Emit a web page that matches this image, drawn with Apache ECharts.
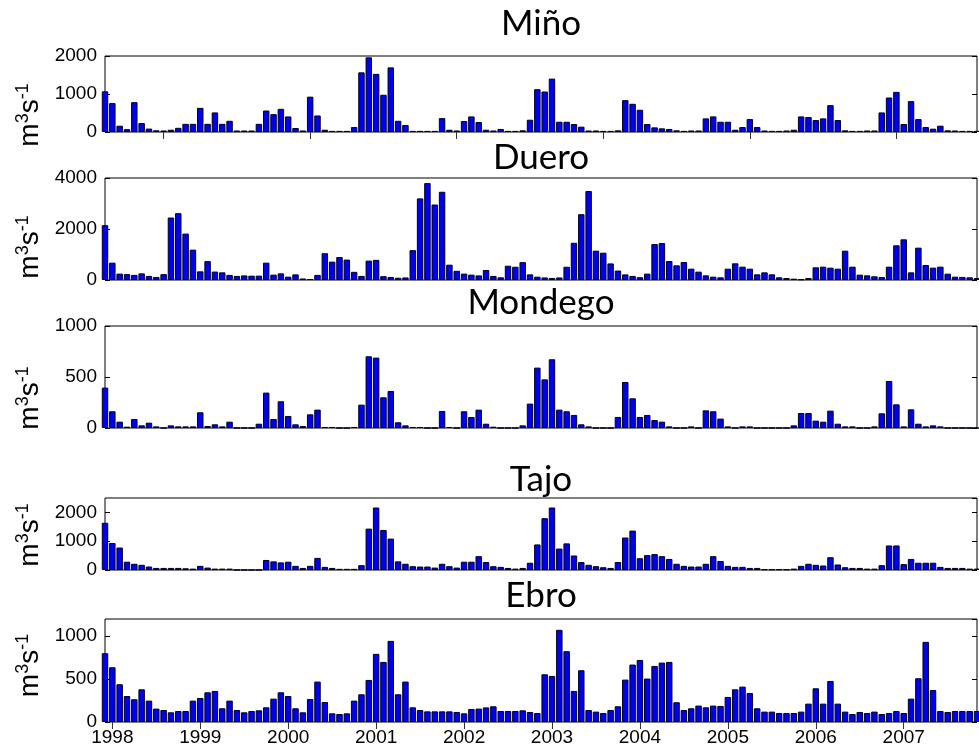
<!DOCTYPE html>
<html>
<head>
<meta charset="utf-8">
<script src="https://cdn.jsdelivr.net/npm/echarts@6/dist/echarts.min.js"></script>
<style>
html,body{margin:0;padding:0;background:#fff;}
#chart{width:979px;height:749px;}
</style>
</head>
<body>
<div id="chart"></div>
<script>
// Monthly discharge (m3/s), Dec 1997 .. Nov 2007 (index 0 = Dec 1997)
const rivers = ['Miño', 'Duero', 'Mondego', 'Tajo', 'Ebro'];
const yearLabels = ['1998','1999','2000','2001','2002','2003','2004','2005','2006','2007'];

const mino = [1070,
 760,165,75,785,235,90,45,40,60,110,215,215,
 635,215,515,215,295,40,40,40,215,565,470,610,
 410,105,40,930,435,60,30,30,30,130,1570,1965,
 1530,980,1700,295,185,30,30,30,30,365,60,40,
 290,410,262,60,40,80,30,30,44,323,1126,1065,
 1405,270,270,210,140,40,40,30,30,44,838,742,
 585,210,122,96,80,44,30,40,40,358,410,270,
 270,60,130,340,130,40,30,30,40,60,410,393,
 314,358,707,314,44,30,30,40,40,515,908,1056,
 210,812,340,130,87,166,44,40,30,30,30];

const duero = [2150,
 680,250,230,200,260,160,120,230,2450,2620,1820,1190,
 340,740,330,300,200,160,180,170,170,680,210,260,
 130,220,60,40,200,1050,720,900,800,320,160,760,
 790,150,120,90,100,1170,3200,3800,2960,3460,600,360,
 250,210,180,390,160,105,560,520,700,220,130,100,
 80,100,520,1460,2580,3490,1150,1070,650,370,220,160,
 110,250,1410,1450,745,575,706,444,327,183,131,105,
 444,654,523,444,222,300,222,105,78,52,26,78,
 497,523,484,444,1150,523,209,183,144,115,523,1360,
 1595,300,1268,588,484,523,248,131,120,105,78];

const mondego = [396,
 164,62,13,88,26,52,16,0,26,16,16,16,
 154,20,36,16,62,0,0,0,42,347,88,262,
 118,36,20,134,180,10,10,0,0,10,229,703,
 690,301,363,56,26,10,10,0,0,167,10,0,
 164,108,180,42,13,0,0,0,26,239,592,477,
 674,180,164,128,36,16,0,0,0,108,451,291,
 108,128,78,62,16,0,0,16,0,173,164,92,
 16,0,16,16,0,0,0,0,0,26,147,147,
 72,62,170,42,16,16,0,0,16,144,461,232,
 16,183,42,16,26,16,0,0,0,0,0];

const tajo = [1640,
 936,780,288,216,180,120,72,72,72,72,60,48,
 144,84,48,48,48,0,0,0,0,348,300,264,
 288,144,72,144,420,108,72,40,40,40,168,1437,
 2170,1390,1090,300,216,132,120,120,84,216,132,84,
 288,288,480,276,132,108,72,48,72,252,888,1800,
 2170,744,924,504,276,180,132,96,72,276,1128,1368,
 408,516,552,480,384,216,144,120,120,216,480,312,
 144,108,108,72,72,24,24,24,24,48,144,216,
 180,156,444,192,96,72,72,48,48,168,852,852,
 204,384,252,252,252,108,72,72,72,48,48];

const ebro = [801,
 638,440,303,265,381,249,156,140,113,128,128,249,
 280,346,362,160,249,140,113,128,136,171,272,346,
 303,160,113,268,471,233,101,93,101,249,323,490,
 794,700,945,323,471,171,140,124,124,124,124,117,
 101,152,156,170,183,128,128,128,136,117,105,556,
 537,1074,825,362,603,140,121,105,140,183,494,669,
 723,506,653,692,700,230,140,160,191,171,191,187,
 292,381,412,338,160,121,121,105,105,105,121,214,
 393,214,478,214,121,93,117,105,121,93,105,128,
 105,272,510,934,373,128,117,128,128,128,128];

const yMax = [2000, 4000, 1000, 2500, 1200];
const yStep = [1000, 2000, 500, 1000, 500];

// month categories Dec 1997 .. Nov 2007
const months = [];
for (let k = 0; k < 120; k++) {
  const t = 1997 * 12 + 11 + k;
  months.push(Math.floor(t / 12) + '-' + String(t % 12 + 1).padStart(2, '0'));
}
const seriesData = [mino, duero, mondego, tajo, ebro];

// ---------- layout ----------
const L = 105, R = 2;
const layout = [
  {top: 56, height: 76, titleTop: 6, namePad: [0, 42, 0, 0]},
  {top: 178, height: 102, titleTop: 140, namePad: [0, 36, 0, 0]},
  {top: 326, height: 102, titleTop: 285, namePad: [0, 42, 0, 0]},
  {top: 498, height: 72, titleTop: 462, namePad: [0, 2, 0, 0]},
  {top: 619, height: 103, titleTop: 578, namePad: [0, 0, 0, 10]}
];
const plotCenterX = L + (979 - L - R) / 2;
const FONT = 'Liberation Sans, Arial, sans-serif';

const option = {
  animation: false,
  backgroundColor: '#fff',
  title: rivers.map((r, k) => ({
    text: r, left: plotCenterX, top: layout[k].titleTop, textAlign: 'center', padding: 0,
    textStyle: {fontFamily: 'Lato', fontSize: 35, fontWeight: 'normal', color: '#000'}
  })),
  grid: layout.map(g => ({
    left: L, right: R, top: g.top, height: g.height,
    show: true, borderColor: '#000', borderWidth: 1, backgroundColor: 'transparent'
  })),
  xAxis: [],
  yAxis: [],
  series: []
};

layout.forEach((g, k) => {
  const last = k === 4;
  const bottomIdx = option.xAxis.length;
  option.xAxis.push({
    type: 'category', gridIndex: k, data: months, boundaryGap: false, position: 'bottom',
    axisLine: {show: false},
    axisTick: {show: last, inside: true, length: 6, interval: (i) => i % 12 === 1,
      lineStyle: {color: '#000'}},
    axisLabel: {show: last, interval: (i) => i % 12 === 1, margin: 6,
      formatter: (v, i) => yearLabels[(i - 1) / 12] || '',
      fontFamily: FONT, fontSize: 19, color: '#000'},
    splitLine: {show: false}
  });
  if (k === 0 || last) {
    option.xAxis.push({
      type: 'category', gridIndex: k, data: months, boundaryGap: false, position: 'top',
      axisLine: {show: false},
      axisTick: {show: true, inside: true, length: 7,
        interval: k === 0 ? ((i) => i % 20 === 8) : ((i) => i % 12 === 1),
        lineStyle: {color: '#333'}},
      axisLabel: {show: false},
      splitLine: {show: false}
    });
  }
  const leftIdx = option.yAxis.length;
  option.yAxis.push({
    type: 'value', gridIndex: k, min: 0, max: yMax[k], interval: yStep[k], position: 'left',
    axisLine: {show: false},
    axisTick: {show: true, inside: true, length: 5, lineStyle: {color: '#000'}},
    axisLabel: {margin: 8, fontFamily: FONT, fontSize: 19, color: '#000',
      showMaxLabel: yMax[k] % yStep[k] === 0, formatter: (v) => String(v)},
    splitLine: {show: false},
    name: '{b|m}{s|3}{b|s}{s|-1}',
    nameLocation: 'middle', nameRotate: 90, nameGap: 48,
    nameTextStyle: {
      padding: g.namePad,
      rich: {
        b: {fontFamily: FONT, fontSize: 28, color: '#000', lineHeight: 30, verticalAlign: 'bottom'},
        s: {fontFamily: FONT, fontSize: 18, color: '#000', lineHeight: 30, verticalAlign: 'top'}
      }
    }
  });
  option.yAxis.push({
    type: 'value', gridIndex: k, min: 0, max: yMax[k], interval: yStep[k], position: 'right',
    axisLine: {show: false},
    axisTick: {show: true, inside: true, length: 5, lineStyle: {color: '#000'}},
    axisLabel: {show: false},
    splitLine: {show: false}
  });
  option.series.push({
    type: 'bar', xAxisIndex: bottomIdx, yAxisIndex: leftIdx,
    data: seriesData[k], barWidth: '88%', clip: true,
    itemStyle: {color: '#0000ee', borderColor: '#000022', borderWidth: 1}
  });
});

const chart = echarts.init(document.getElementById('chart'), null, {renderer: 'canvas'});
chart.setOption(option);
</script>
</body>
</html>
